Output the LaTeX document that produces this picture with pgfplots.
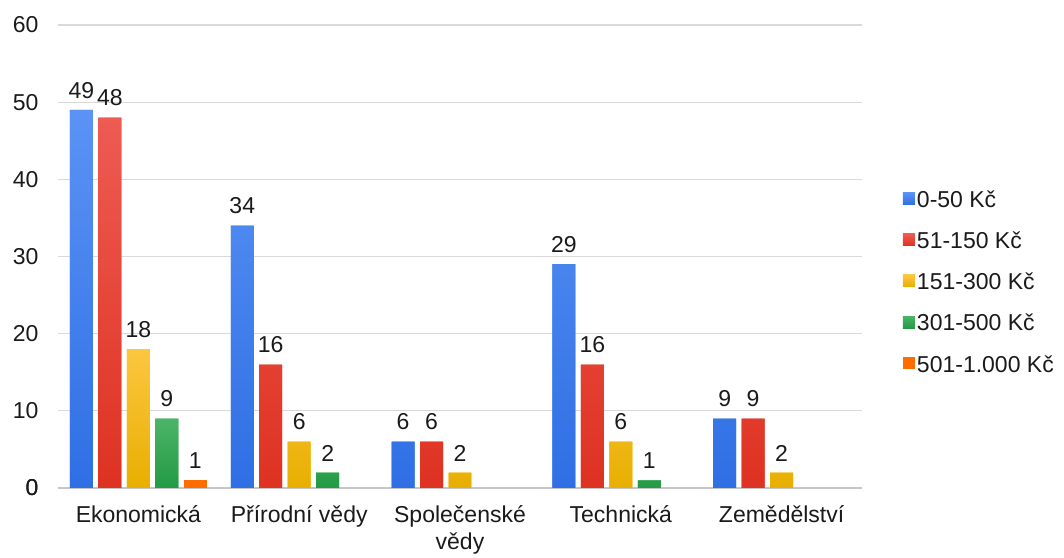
\documentclass[border=0pt]{standalone}
\usepackage{pgfplots}
\pgfplotsset{compat=1.18}
\usepackage{fontspec}
\setmainfont{Liberation Sans}
\definecolor{cblue}{HTML}{4285F4}
\definecolor{cblueT}{HTML}{5B93F5}
\definecolor{cblueB}{HTML}{2F6FE4}
\definecolor{cred}{HTML}{EA4335}
\definecolor{credT}{HTML}{EE5B52}
\definecolor{credB}{HTML}{DE3222}
\definecolor{cyel}{HTML}{FBBC04}
\definecolor{cyelT}{HTML}{FCC740}
\definecolor{cyelB}{HTML}{E8AE00}
\definecolor{cgrn}{HTML}{34A853}
\definecolor{cgrnT}{HTML}{4CB468}
\definecolor{cgrnB}{HTML}{239A44}
\definecolor{corg}{HTML}{FF6D01}
\definecolor{ctext}{HTML}{1A1A1A}
\definecolor{cgrid}{HTML}{D9D9D9}
\begin{document}
\begin{tikzpicture}
\begin{axis}[
  name=ax,
  scale only axis,
  width=804pt, height=463pt,
  xmin=-0.5, xmax=4.5,
  ymin=0, ymax=60,
  ytick={0,10,...,60},
  xtick={0,1,2,3,4},
  xticklabels={Ekonomická,Přírodní vědy,{Společenské\\vědy},Technická,Zemědělství},
  xticklabel style={align=center, font=\fontsize{23}{27}\selectfont, text=ctext, yshift=-14pt},
  yticklabel style={font=\fontsize{23}{27}\selectfont, text=ctext, xshift=-16pt},
  /pgf/number format/assume math mode=true,
  axis line style={draw=none},
  major tick length=0pt,
  ymajorgrids, grid style={cgrid, line width=1.2pt},
  extra y ticks={0}, extra y tick style={grid style={cgrid!80!gray, line width=1.5pt}},
  ybar, bar width=0.143,
  nodes near coords,
  nodes near coords style={font=\fontsize{23}{27}\selectfont, text=ctext, yshift=8pt},
  legend style={draw=none, fill=none, at={(1.047,0.445)}, anchor=west,
    font=\fontsize{23}{27}\selectfont, text=ctext, row sep=19pt,
    /tikz/every even column/.append style={column sep=0pt}},
  legend cell align=left,
  legend image code/.code={\fill[#1] (0pt,-5pt) rectangle (12pt,7pt);},
  clip=false,
]
\addplot[draw=none, fill=cblue, top color=cblueT, bottom color=cblueB, bar shift=-0.354]
  coordinates {(0,49) (1,34) (2,6) (3,29) (4,9)};
\addplot[draw=none, fill=cred, top color=credT, bottom color=credB, bar shift=-0.177]
  coordinates {(0,48) (1,16) (2,6) (3,16) (4,9)};
\addplot[draw=none, fill=cyel, top color=cyelT, bottom color=cyelB, bar shift=0]
  coordinates {(0,18) (1,6) (2,2) (3,6) (4,2)};
\addplot[draw=none, fill=cgrn, top color=cgrnT, bottom color=cgrnB, bar shift=0.177]
  coordinates {(0,9) (1,2) (3,1)};
\addplot[draw=none, fill=corg, bar shift=0.354]
  coordinates {(0,1)};
\legend{0-50 Kč,51-150 Kč,151-300 Kč,301-500 Kč,501-1.000 Kč}
\end{axis}
\path[use as bounding box] ([xshift=-58pt,yshift=-66pt]ax.south west) rectangle ([xshift=202pt,yshift=25pt]ax.north east);
\end{tikzpicture}
\end{document}
